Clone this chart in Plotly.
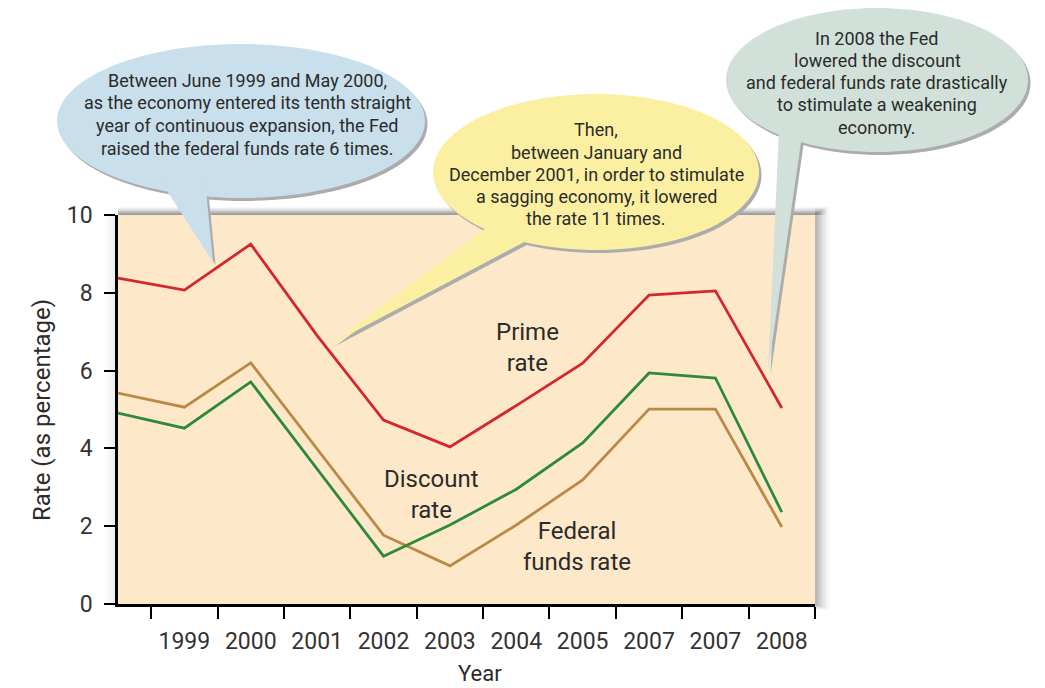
import numpy as np
import plotly.graph_objects as go

# ---------------- data ----------------
positions = list(range(11))                       # point slots along the x axis
label_positions = list(range(1, 11))
year_labels = ["1999", "2000", "2001", "2002", "2003", "2004", "2005", "2007", "2007", "2008"]
boundary_ticks = [i + 0.5 for i in range(11)]

prime_rate = [8.38, 8.07, 9.25, 6.90, 4.73, 4.04, 5.10, 6.19, 7.94, 8.05, 5.04]
discount_rate = [4.91, 4.52, 5.71, 3.47, 1.23, 2.03, 2.95, 4.14, 5.94, 5.81, 2.36]
federal_funds_rate = [5.42, 5.06, 6.20, 3.98, 1.77, 0.98, 2.03, 3.19, 5.01, 5.01, 1.98]

bubble1_lines = ["Between June 1999 and May 2000,",
                 "as the economy entered its tenth straight",
                 "year of continuous expansion, the Fed",
                 "raised the federal funds rate 6 times."]
bubble2_lines = ["Then,",
                 "between January and",
                 "December 2001, in order to stimulate",
                 "a sagging economy, it lowered",
                 "the rate 11 times."]
bubble3_lines = ["In 2008 the Fed",
                 "lowered the discount",
                 "and federal funds rate drastically",
                 "to stimulate a weakening",
                 "economy."]

# ---------------- layout helpers ----------------
OFF = 8                       # page body margin
W, H = 1045 - OFF, 688 - OFF
L, R, T, B = 118, 815, 215, 604   # plot area in page pixels
FONT = "Roboto"
TXT = "#2b2b2b"


def px(x):
    return (x - L) / (R - L)


def py(y):
    return (B - y) / (B - T)


def path_from(points):
    return "M " + " L ".join(f"{px(x):.5f},{py(y):.5f}" for x, y in points) + " Z"


def ellipse_pts(cx, cy, rx, ry, n=120):
    t = np.linspace(0, 2 * np.pi, n, endpoint=False)
    return [(cx + rx * np.cos(a), cy + ry * np.sin(a)) for a in t]


shapes = []

# plot-area drop shadow (top band and right band)
for i in range(6):
    a = 0.05 + 0.045 * i
    shapes.append(dict(type="rect", xref="paper", yref="paper", layer="below",
                       x0=px(L), x1=px(R + 12 - 2 * i), y0=py(T), y1=py(T - 8 + 1.3 * i),
                       fillcolor=f"rgba(110,110,110,{a:.3f})", line=dict(width=0)))
    shapes.append(dict(type="rect", xref="paper", yref="paper", layer="below",
                       x0=px(R), x1=px(R + 15 - 2.5 * i), y0=py(B + 6 - i), y1=py(T - 8 + 1.3 * i),
                       fillcolor=f"rgba(120,120,120,{a * 0.7:.3f})", line=dict(width=0)))
for i in range(4):
    shapes.append(dict(type="rect", xref="paper", yref="paper", layer="below",
                       x0=px(L - 12 + 3 * i), x1=px(L), y0=py(B), y1=py(T),
                       fillcolor="rgba(150,150,150,0.05)", line=dict(width=0)))


def bubble(cx, cy, rx, ry, tail, fill, shadow="#acacac"):
    ell = ellipse_pts(cx, cy, rx, ry)
    for pts, col in (([(x + 2.5, y + 3) for x, y in ell], shadow),
                     ([(x + 2.5, y + 3) for x, y in tail], shadow),
                     (ell, fill), (tail, fill)):
        shapes.append(dict(type="path", xref="paper", yref="paper", layer="above",
                           path=path_from(pts), fillcolor=col, line=dict(width=0)))


bubble(241, 121, 184, 77, [(160, 180), (213, 262), (205, 180)], "#c9dfeb")
bubble(596, 172, 163, 78, [(490, 225), (333, 343), (530, 239)], "#fbf0a2")
bubble(877, 80, 151, 72, [(779, 130), (768, 372), (802, 135)], "#d1e1d9")

annotations = []


def add_lines(lines, cx, y0, dy, size=18):
    for k, s in enumerate(lines):
        annotations.append(dict(text=s, xref="paper", yref="paper", x=px(cx), y=py(y0 + k * dy),
                                xanchor="center", yanchor="middle", showarrow=False,
                                font=dict(family=FONT, size=size, color=TXT)))


add_lines(bubble1_lines, 247, 80, 22.8)
add_lines(bubble2_lines, 596, 130, 22)
add_lines(bubble3_lines, 877, 38, 22.3)

for text, x, y in (("Prime<br>rate", 527, 347),
                   ("Discount<br>rate", 431, 494),
                   ("Federal<br>funds rate", 577, 546)):
    annotations.append(dict(text=text, xref="paper", yref="paper", x=px(x), y=py(y),
                            xanchor="center", yanchor="middle", showarrow=False,
                            font=dict(family=FONT, size=24, color=TXT)))

annotations.append(dict(text="Year", xref="paper", yref="paper", x=px(480), y=py(673),
                        xanchor="center", yanchor="middle", showarrow=False,
                        font=dict(family=FONT, size=22, color=TXT)))
annotations.append(dict(text="Rate (as percentage)", xref="paper", yref="paper", x=px(42), y=py(410),
                        xanchor="center", yanchor="middle", showarrow=False, textangle=-90,
                        font=dict(family=FONT, size=24, color=TXT)))

# ---------------- figure ----------------
fig = go.Figure()
for name, vals, col in (("Federal funds rate", federal_funds_rate, "#b98a45"),
                        ("Discount rate", discount_rate, "#2e8a3b"),
                        ("Prime rate", prime_rate, "#d4272d")):
    fig.add_trace(go.Scatter(x=positions, y=vals, mode="lines", name=name,
                             line=dict(color=col, width=2.8), hoverinfo="skip"))

fig.update_layout(
    width=W, height=H,
    margin=dict(l=L - OFF, r=W - (R - OFF), t=T - OFF, b=H - (B - OFF), pad=0),
    paper_bgcolor="white", plot_bgcolor="#fde9c9",
    showlegend=False,
    shapes=shapes, annotations=annotations,
    xaxis=dict(range=[0, 10.5], tickmode="array", tickvals=label_positions, ticktext=year_labels,
               ticks="outside", ticklen=15, tickcolor="rgba(0,0,0,0)",
               minor=dict(tickmode="array", tickvals=boundary_ticks, ticks="outside",
                          ticklen=12, tickwidth=2, tickcolor="black"),
               showline=True, linecolor="black", linewidth=2.5, showgrid=False, zeroline=False,
               tickfont=dict(family=FONT, size=23, color="#333333")),
    yaxis=dict(range=[0, 10], tickmode="array", tickvals=[0, 2, 4, 6, 8, 10],
               ticks="outside", ticklen=11, tickwidth=2, tickcolor="black", ticklabelstandoff=7,
               showline=True, linecolor="black", linewidth=2.5, showgrid=False, zeroline=False,
               tickfont=dict(family=FONT, size=23, color="#333333")),
)

fig.write_html("out.html")
